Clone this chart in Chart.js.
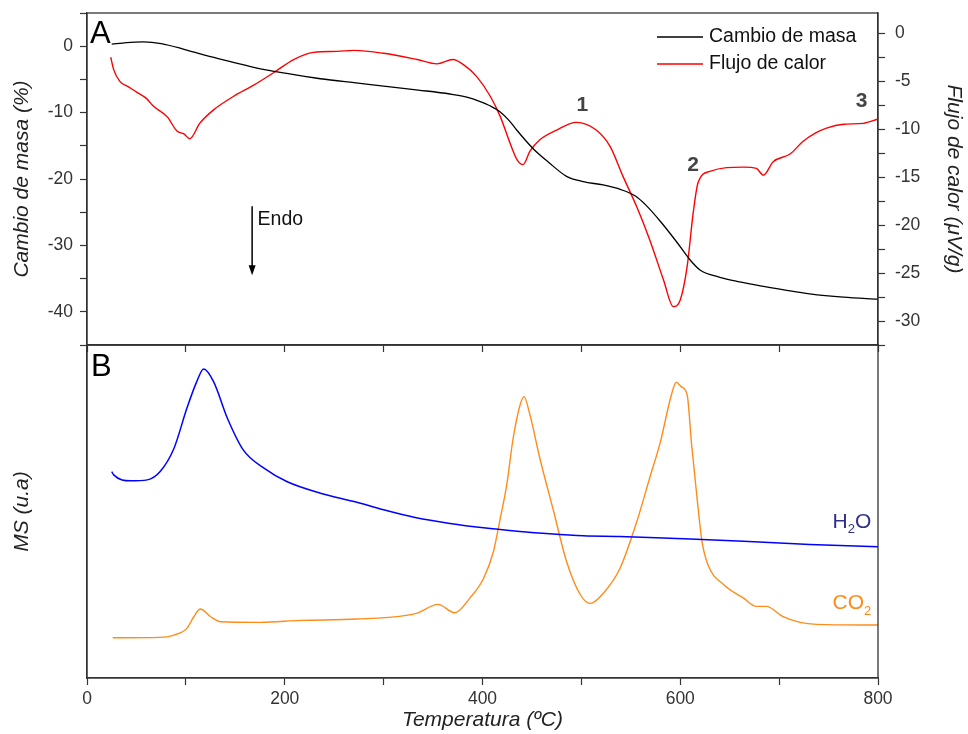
<!DOCTYPE html>
<html>
<head>
<meta charset="utf-8">
<script src="https://cdn.jsdelivr.net/npm/chart.js@4.4.1/dist/chart.umd.min.js"></script>
<style>
  html, body { margin: 0; padding: 0; background: #fff; }
  #wrap { position: relative; width: 968px; height: 734px; }
  #boxA { position: absolute; left: 0; top: 0; width: 968px; height: 360px; }
  #boxB { position: absolute; left: 0; top: 340px; width: 968px; height: 394px; }
</style>
</head>
<body>
<div id="wrap">
  <div id="boxA"><canvas id="chartA"></canvas></div>
  <div id="boxB"><canvas id="chartB"></canvas></div>
</div>
<script>
// --- data ---
// A: mass change (%) and heat flow (uV/g) vs temperature
const massT = [25, 40, 57, 75, 99, 120, 147, 172, 202, 236, 270, 300, 335, 367, 385, 397, 408, 418, 427, 435, 451, 467, 485, 502, 522, 540, 555, 565, 580, 597, 610, 620, 640, 660, 681, 705, 731, 765, 800];
const mass = [0.3, 0.55, 0.65, 0.4, -0.5, -1.4, -2.4, -3.3, -4.1, -4.9, -5.5, -6.0, -6.6, -7.2, -7.7, -8.3, -9.0, -9.9, -11.2, -12.7, -15.4, -17.5, -19.6, -20.4, -20.9, -21.6, -22.6, -23.9, -26.4, -29.6, -32.2, -33.7, -34.8, -35.5, -36.1, -36.7, -37.3, -37.8, -38.1];

const heatT = [24, 27, 33, 42, 51, 60, 67, 81, 91, 98, 104, 114, 128, 148, 169, 189, 209, 229, 253, 270, 300, 334, 354, 370, 381, 394, 408, 418, 428, 435, 441, 448, 458, 475, 495, 515, 529, 542, 556, 569, 583, 593, 600, 607, 613, 618, 630, 664, 677, 684, 694, 711, 724, 737, 748, 765, 785, 800];
const heat = [-2.5, -3.8, -5.0, -5.6, -6.2, -6.8, -7.6, -8.7, -10.2, -10.5, -11.0, -9.4, -8.0, -6.6, -5.4, -4.1, -2.75, -2.0, -1.9, -1.8, -2.1, -2.75, -3.2, -2.75, -3.3, -4.5, -6.6, -8.7, -11.5, -13.2, -13.7, -12.3, -11.1, -10.1, -9.3, -10.1, -11.8, -14.9, -18.1, -21.5, -25.7, -28.5, -27.8, -24.3, -18.8, -15.6, -14.4, -13.96, -14.1, -14.8, -13.4, -12.6, -11.3, -10.4, -9.9, -9.5, -9.4, -8.95];

// B: mass spectrometry signals (arbitrary units)
const h2oT = [25, 27, 44, 61, 74, 88, 101, 111, 118, 128, 142, 158, 179, 202, 236, 273, 300, 333, 367, 401, 435, 468, 502, 539, 596, 664, 731, 800];
const h2o = [62.0, 61.0, 59.2, 59.5, 62.0, 69.0, 81.0, 89.0, 92.8, 89.0, 78.0, 68.5, 63.0, 59.0, 55.5, 52.8, 50.5, 48.1, 46.4, 45.1, 44.1, 43.3, 42.7, 42.5, 41.9, 41.1, 40.1, 39.4];

const co2T = [26, 74, 88, 101, 108, 114.5, 125, 135, 175, 216, 273, 333, 355, 372, 387, 401, 411, 418, 424.5, 431, 438, 442, 448, 458, 472, 485, 499, 509, 522, 539, 556, 569, 580, 591, 596, 601, 607, 611.5, 617, 622, 628, 644, 664, 677, 687, 704, 721, 738, 800];
const co2 = [12.1, 12.2, 12.9, 14.9, 18.4, 20.7, 18.4, 16.9, 16.7, 17.3, 17.7, 19.4, 22.1, 19.6, 23.9, 29.9, 37.9, 48.0, 58.0, 72.0, 82.0, 84.5, 79.0, 66.0, 50.0, 35.0, 25.0, 22.4, 25.4, 32.9, 46.9, 60.0, 71.0, 85.0, 88.8, 87.5, 85.0, 70.0, 54.0, 41.0, 34.0, 28.0, 24.0, 21.5, 21.5, 18.4, 16.7, 16.1, 15.9];

const FONT = "'Liberation Sans', Arial, sans-serif";
const AXIS = "#333";
Chart.defaults.font.family = FONT;
Chart.defaults.color = AXIS;

function pts(xs, ys) {
    return xs.map((x, i) => ({ x: x, y: ys[i] }));
}

function line(label, xs, ys, color, axis, width) {
    return {
        label: label,
        data: pts(xs, ys),
        yAxisID: axis,
        borderColor: color,
        borderWidth: width,
        pointRadius: 0,
        cubicInterpolationMode: "monotone",
        fill: false
    };
}

// fixed axis sizes so both panels line up; no extra label padding
function fixSize(w, h) {
    return function (s) {
        if (w !== null) s.width = w;
        if (h !== null) s.height = h;
        s.paddingTop = 0; s.paddingBottom = 0;
        s.paddingLeft = 0; s.paddingRight = 0;
    };
}

const gridOpts = { drawOnChartArea: false, tickLength: 7, tickColor: AXIS, tickWidth: 1.2 };
const borderOpts = { color: AXIS, width: 1.3 };
const tickFont = { size: 17.5 };
const titleFont = { size: 21, style: "italic" };

// full box around the plot area
const frame = {
    id: "frame",
    afterDraw(chart) {
        const { ctx, chartArea: a } = chart;
        ctx.save();
        ctx.strokeStyle = AXIS;
        ctx.lineWidth = 1.3;
        ctx.strokeRect(a.left, a.top, a.right - a.left, a.bottom - a.top);
        ctx.restore();
    }
};

// Panel A
new Chart(document.getElementById("chartA"), {
    type: "line",
    data: {
        datasets: [
            line("Cambio de masa", massT, mass, "#000000", "yMass", 1.3),
            line("Flujo de calor", heatT, heat, "#ff0000", "yHeat", 1.4)
        ]
    },
    options: {
        responsive: true,
        maintainAspectRatio: false,
        animation: false,
        layout: { padding: { top: 13 } },
        plugins: { legend: { display: false }, tooltip: { enabled: false } },
        scales: {
            x: {
                type: "linear", min: 0, max: 800,
                ticks: { stepSize: 100, callback: () => "" },
                grid: gridOpts, border: borderOpts,
                afterFit: fixSize(null, 15)
            },
            yMass: {
                position: "left", min: -45, max: 5,
                ticks: { stepSize: 5, includeBounds: false, padding: 7, font: tickFont,
                    callback: v => (v % 10 === 0 ? v : "") },
                grid: gridOpts, border: borderOpts,
                title: { display: true, text: "Cambio de masa (%)", font: titleFont, color: "#222", padding: { top: 10, bottom: 0 } },
                afterFit: fixSize(87, null)
            },
            yHeat: {
                position: "right", min: -32.5, max: 2.1,
                ticks: { stepSize: 2.5, includeBounds: false, padding: 10, font: tickFont,
                    callback: v => (v % 5 === 0 ? v : "") },
                grid: gridOpts, border: borderOpts,
                title: { display: true, text: "Flujo de calor (μV/g)", font: titleFont, color: "#222", padding: { top: 1.5, bottom: 0 } },
                afterFit: fixSize(90, null)
            }
        }
    },
    plugins: [frame, {
        id: "notesA",
        afterDraw(chart) {
            const { ctx, chartArea: a, scales } = chart;
            const x = scales.x, ym = scales.yMass, yh = scales.yHeat;
            ctx.save();
            // panel letter
            ctx.fillStyle = "#000";
            ctx.font = "31px " + FONT;
            ctx.textBaseline = "middle";
            ctx.textAlign = "left";
            ctx.fillText("A", a.left + 3, a.top + 21);

            // legend
            ctx.font = "19.5px " + FONT;
            chart.data.datasets.forEach((ds, i) => {
                const y = a.top + 24 + i * 27;
                ctx.strokeStyle = ds.borderColor;
                ctx.lineWidth = 1.5;
                ctx.beginPath();
                ctx.moveTo(a.right - 221, y);
                ctx.lineTo(a.right - 175, y);
                ctx.stroke();
                ctx.fillStyle = "#111";
                ctx.fillText(ds.label, a.right - 169, y);
            });

            // Endo arrow
            const ax = x.getPixelForValue(167);
            const y1 = ym.getPixelForValue(-24.1), y2 = ym.getPixelForValue(-34.5);
            ctx.strokeStyle = "#000";
            ctx.lineWidth = 1.5;
            ctx.beginPath();
            ctx.moveTo(ax, y1);
            ctx.lineTo(ax, y2 - 8);
            ctx.stroke();
            ctx.fillStyle = "#000";
            ctx.beginPath();
            ctx.moveTo(ax - 3.5, y2 - 10);
            ctx.lineTo(ax + 3.5, y2 - 10);
            ctx.lineTo(ax, y2);
            ctx.closePath();
            ctx.fill();
            ctx.fillStyle = "#111";
            ctx.fillText("Endo", x.getPixelForValue(172.5), ym.getPixelForValue(-26.05));

            // peak numbers
            ctx.fillStyle = "#444";
            ctx.font = "bold 21px " + FONT;
            ctx.textAlign = "center";
            [["1", 501, -7.48], ["2", 613, -13.75], ["3", 783.5, -7.07]].forEach(n => {
                ctx.fillText(n[0], x.getPixelForValue(n[1]), yh.getPixelForValue(n[2]));
            });
            ctx.restore();
        }
    }]
});

// Panel B
new Chart(document.getElementById("chartB"), {
    type: "line",
    data: {
        datasets: [
            line("H2O", h2oT, h2o, "#0000ff", "yMS", 1.5),
            line("CO2", co2T, co2, "#ff8c1a", "yMS", 1.4)
        ]
    },
    options: {
        responsive: true,
        maintainAspectRatio: false,
        animation: false,
        layout: { padding: { top: 5, right: 90 } },
        plugins: { legend: { display: false }, tooltip: { enabled: false } },
        scales: {
            x: {
                type: "linear", min: 0, max: 800,
                ticks: { stepSize: 100, padding: 4, font: tickFont, maxRotation: 0,
                    callback: v => (v % 200 === 0 ? v : "") },
                grid: gridOpts, border: borderOpts,
                title: { display: true, text: "Temperatura (ºC)", font: titleFont, color: "#222", padding: { top: 0, bottom: 1 } },
                afterFit: fixSize(null, 56)
            },
            yMS: {
                position: "left", min: 0, max: 100,
                ticks: { display: false },
                grid: { drawOnChartArea: false, drawTicks: false },
                border: borderOpts,
                title: { display: true, text: "MS (u.a)", font: titleFont, color: "#222", padding: { top: 10, bottom: 0 } },
                afterFit: fixSize(87, null)
            }
        }
    },
    plugins: [frame, {
        id: "notesB",
        afterDraw(chart) {
            const { ctx, chartArea: a, scales } = chart;
            const x = scales.x, y = scales.yMS;
            ctx.save();
            ctx.fillStyle = "#000";
            ctx.font = "31px " + FONT;
            ctx.textBaseline = "middle";
            ctx.textAlign = "left";
            ctx.fillText("B", a.left + 4, a.top + 22);

            // gas labels with subscripts
            function gas(base, sub, tail, t, v, color) {
                let px = x.getPixelForValue(t);
                const py = y.getPixelForValue(v);
                ctx.fillStyle = color;
                ctx.font = "21px " + FONT;
                ctx.fillText(base, px, py);
                px += ctx.measureText(base).width;
                ctx.font = "13px " + FONT;
                ctx.fillText(sub, px, py + 8);
                px += ctx.measureText(sub).width;
                if (tail) {
                    ctx.font = "21px " + FONT;
                    ctx.fillText(tail, px, py);
                }
            }
            gas("H", "2", "O", 754, 46.9, "#30308a");
            gas("CO", "2", "", 754, 22.4, "#ff8c1a");
            ctx.restore();
        }
    }]
});
</script>
</body>
</html>
